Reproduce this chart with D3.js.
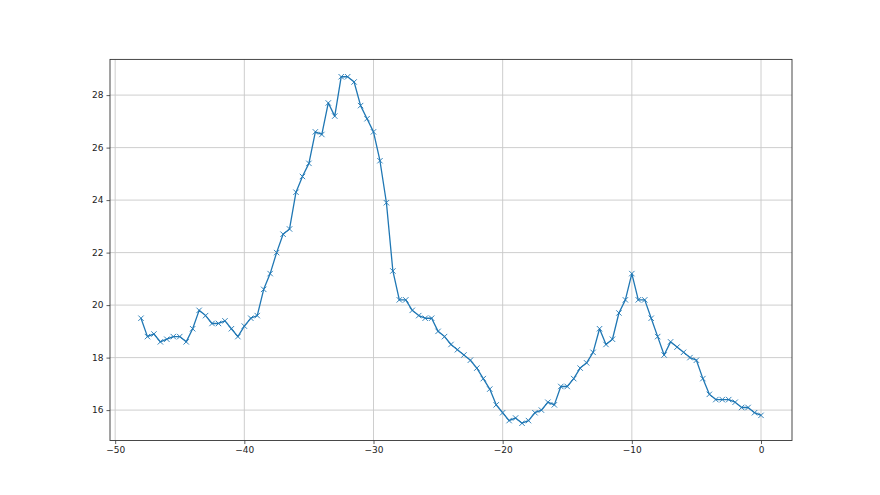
<!DOCTYPE html>
<html>
<head>
<meta charset="utf-8">
<script src="https://cdn.jsdelivr.net/npm/d3@7"></script>
<style>
  body { margin: 0; background: #fff; }
  text { font-family: "DejaVu Sans", sans-serif; }
</style>
</head>
<body>
<svg id="chart" width="880" height="495"></svg>
<script>
// x positions: every half step from -48 to 0
var xValues = [
  -48, -47.5, -47, -46.5, -46, -45.5, -45, -44.5, -44, -43.5,
  -43, -42.5, -42, -41.5, -41, -40.5, -40, -39.5, -39, -38.5,
  -38, -37.5, -37, -36.5, -36, -35.5, -35, -34.5, -34, -33.5,
  -33, -32.5, -32, -31.5, -31, -30.5, -30, -29.5, -29, -28.5,
  -28, -27.5, -27, -26.5, -26, -25.5, -25, -24.5, -24, -23.5,
  -23, -22.5, -22, -21.5, -21, -20.5, -20, -19.5, -19, -18.5,
  -18, -17.5, -17, -16.5, -16, -15.5, -15, -14.5, -14, -13.5,
  -13, -12.5, -12, -11.5, -11, -10.5, -10, -9.5, -9, -8.5,
  -8, -7.5, -7, -6.5, -6, -5.5, -5, -4.5, -4, -3.5,
  -3, -2.5, -2, -1.5, -1, -0.5, 0
];

var yValues = [
  19.5, 18.8, 18.9, 18.6, 18.7, 18.8, 18.8, 18.6, 19.1, 19.8,
  19.6, 19.3, 19.3, 19.4, 19.1, 18.8, 19.2, 19.5, 19.6, 20.6,
  21.2, 22.0, 22.7, 22.9, 24.3, 24.9, 25.4, 26.6, 26.5, 27.7,
  27.2, 28.7, 28.7, 28.5, 27.6, 27.1, 26.6, 25.5, 23.9, 21.3,
  20.2, 20.2, 19.8, 19.6, 19.5, 19.5, 19.0, 18.8, 18.5, 18.3,
  18.1, 17.9, 17.6, 17.2, 16.8, 16.2, 15.9, 15.6, 15.7, 15.5,
  15.6, 15.9, 16.0, 16.3, 16.2, 16.9, 16.9, 17.2, 17.6, 17.8,
  18.2, 19.1, 18.5, 18.7, 19.7, 20.2, 21.2, 20.2, 20.2, 19.5,
  18.8, 18.1, 18.6, 18.4, 18.2, 18.0, 17.9, 17.2, 16.6, 16.4,
  16.4, 16.4, 16.3, 16.1, 16.1, 15.9, 15.8
];

var xTicks = [-50, -40, -30, -20, -10, 0];
var yTicks = [16, 18, 20, 22, 24, 26, 28];

var data = xValues.map(function(x, i) { return { x: x, y: yValues[i] }; });

var margin = { left: 110, right: 88, top: 59.4, bottom: 54.45 };
var width = 880 - margin.left - margin.right;
var height = 495 - margin.top - margin.bottom;

// matplotlib-style 5% padding around the data
var xMin = d3.min(xValues), xMax = d3.max(xValues);
var yMin = d3.min(yValues), yMax = d3.max(yValues);
var xPad = (xMax - xMin) * 0.05, yPad = (yMax - yMin) * 0.05;

var x = d3.scaleLinear().domain([xMin - xPad, xMax + xPad]).range([0, width]);
var y = d3.scaleLinear().domain([yMin - yPad, yMax + yPad]).range([height, 0]);

var svg = d3.select('#chart');
var g = svg.append('g').attr('transform', 'translate(' + margin.left + ',' + margin.top + ')');

// grid
g.append('g')
  .selectAll('line.vgrid')
  .data(xTicks)
  .enter().append('line')
  .attr('x1', function(d) { return x(d); })
  .attr('x2', function(d) { return x(d); })
  .attr('y1', 0).attr('y2', height)
  .attr('stroke', '#c8c8c8').attr('stroke-width', 0.9);

g.append('g')
  .selectAll('line.hgrid')
  .data(yTicks)
  .enter().append('line')
  .attr('y1', function(d) { return y(d); })
  .attr('y2', function(d) { return y(d); })
  .attr('x1', 0).attr('x2', width)
  .attr('stroke', '#c8c8c8').attr('stroke-width', 0.9);

// axes
var xAxis = d3.axisBottom(x).tickValues(xTicks).tickSize(3.5).tickPadding(3)
  .tickFormat(function(d) { return d < 0 ? '\u2212' + Math.abs(d) : d; });
var yAxis = d3.axisLeft(y).tickValues(yTicks).tickSize(3.5).tickPadding(3);

var gx = g.append('g').attr('transform', 'translate(0,' + height + ')').call(xAxis);
var gy = g.append('g').call(yAxis);

[gx, gy].forEach(function(ax) {
  ax.select('.domain').remove();
  ax.selectAll('line').attr('stroke', '#333').attr('stroke-width', 0.8);
  ax.selectAll('text').attr('font-size', 9).attr('fill', '#222')
    .style('font-family', '"DejaVu Sans", sans-serif');
});

// frame
g.append('rect')
  .attr('x', 0).attr('y', 0).attr('width', width).attr('height', height)
  .attr('fill', 'none').attr('stroke', '#333').attr('stroke-width', 0.9);

// line
var line = d3.line()
  .x(function(d) { return x(d.x); })
  .y(function(d) { return y(d.y); });

g.append('path')
  .datum(data)
  .attr('d', line)
  .attr('fill', 'none')
  .attr('stroke', '#1f77b4')
  .attr('stroke-width', 1.3)
  .attr('stroke-linejoin', 'round');

// x markers
var s = 2.7;
g.append('g')
  .selectAll('path.marker')
  .data(data)
  .enter().append('path')
  .attr('d', function(d) {
    var cx = x(d.x), cy = y(d.y);
    return 'M' + (cx - s) + ',' + (cy - s) + 'L' + (cx + s) + ',' + (cy + s) +
           'M' + (cx - s) + ',' + (cy + s) + 'L' + (cx + s) + ',' + (cy - s);
  })
  .attr('stroke', '#1f77b4')
  .attr('stroke-width', 0.9)
  .attr('fill', 'none');
</script>
</body>
</html>
